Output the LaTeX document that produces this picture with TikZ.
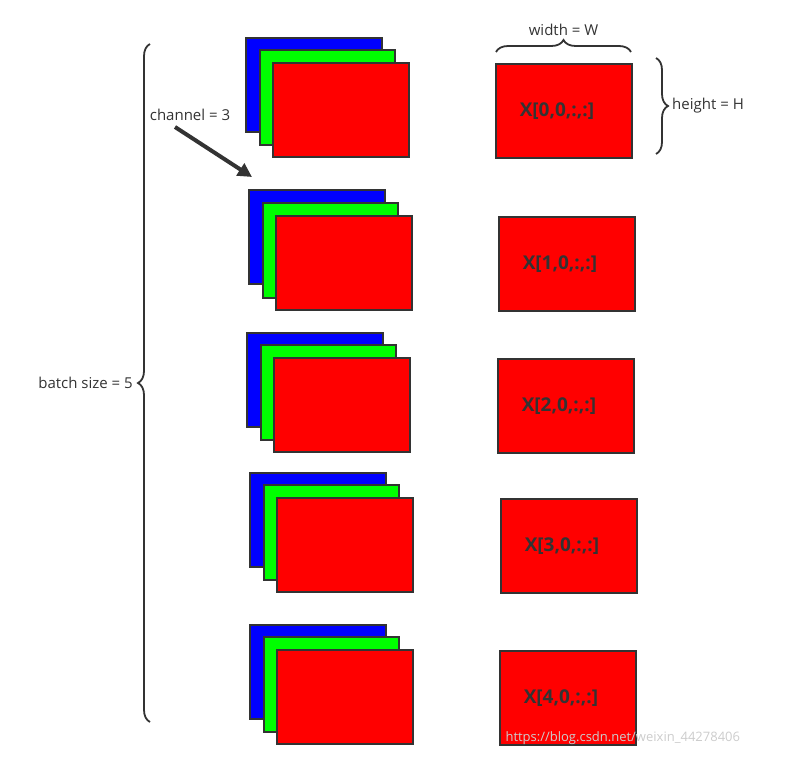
\documentclass[tikz,border=0pt]{standalone}
\usepackage{fontspec}
\setmainfont{Open Sans}
\usetikzlibrary{decorations.pathreplacing,arrows.meta}
\definecolor{ln}{HTML}{333333}
\definecolor{rd}{HTML}{FF0000}
\definecolor{gr}{HTML}{00FF00}
\definecolor{bl}{HTML}{0000FF}
\begin{document}
\begin{tikzpicture}[x=1pt,y=-1pt,
  box/.style={draw=ln,line width=1.8pt},
  lab/.style={font=\fontsize{15}{18}\selectfont,text=ln},
  xl/.style={font=\fontsize{19}{22}\selectfont\bfseries,text=ln},
  br/.style={draw=ln,line width=1.8pt,decorate,decoration={brace,amplitude=12pt}}]
\useasboundingbox (0,0) rectangle (786,757);
\foreach \bx/\by/\gx/\gy/\rx/\ry/\qx/\qy/\i in {
 246/38/260/50/273/63/495/63/0,
 249/190/263/203/276/216/498/216/1,
 247/333/261/345/274/358/497/358/2,
 250/473/264/485/277/498/500/498/3,
 250/625/264/637/277/650/499/650/4}{
  \draw[box,fill=bl] (\bx,\by) rectangle ++(136,94);
  \draw[box,fill=gr] (\gx,\gy) rectangle ++(135,95);
  \draw[box,fill=rd] (\rx,\ry) rectangle ++(136,94);
  \node[box,fill=rd,minimum width=136pt,minimum height=94pt,anchor=north west,inner sep=0] (q\i) at (\qx,\qy) {};
  \node[xl] at ([xshift=-7pt]q\i.center) {X[\i,0,:,:]};
}
\draw[br] (150,722) -- (150,44) node[midway,left=13pt,lab] (bs) {batch size = 5};
\draw[br] (496,52) -- (631,52) node[midway,above=12pt,lab] (w) {width = W};
\draw[br] (656,58) -- (656,154) node[midway,right=12pt,lab] (h) {height = H};
\node[lab,fill=white,inner sep=1pt] (ch) at (190,115) {channel = 3};
\coordinate (at) at (252,177);
\draw[ln,line width=4pt,-{Triangle[length=14pt,width=14pt]}] (175,127) -- (at);
\node[font=\fontsize{13}{15}\selectfont,text=gray!40,anchor=west] (wm) at (502,738) {https://blog.csdn.net/weixin\_44278406};
\end{tikzpicture}
\end{document}
